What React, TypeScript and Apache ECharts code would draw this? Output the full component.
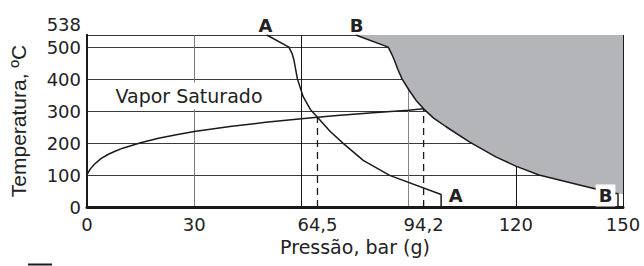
import React, { useEffect, useRef } from "react";
import * as echarts from "echarts";

// Tick labels
const xTickLabels = [0, 30, 64.5, 94.2, 120, 150];
const yTickLabels = [0, 100, 200, 300, 400, 500, 538];

// Saturation curve (pressure bar g, temperature °C)
const satPressure = [0, 0.5, 1, 2, 4, 6, 8, 10, 15, 20, 25, 30, 40, 50, 60, 64.5, 70, 80, 90, 94.2];
const satTemp = [100, 111, 120, 133, 152, 165, 175, 184, 201, 215, 226, 236, 252, 265, 276, 281, 286, 295, 303, 307];

// Curve A
const curveAPressure = [50.3, 56.5, 57.4, 57.9, 58.9, 60.5, 62.5, 64.5, 68, 71.7, 77.3, 84.7, 99.1, 99.1];
const curveATemp = [538, 500, 480, 460, 400, 345, 305, 281, 237, 199, 146, 99, 39, 0];

// Curve B
const curveBPressure = [75.2, 84.3, 85.2, 86, 87, 88.2, 90.1, 92, 94.2, 97, 100.5, 107, 114.4, 120, 126.5, 141.8, 147.3, 148.6, 148.6];
const curveBTemp = [538, 500, 480, 460, 430, 400, 366, 335, 307, 278, 251, 204, 157, 128, 100, 58, 42, 42, 0];

// Dashed drop lines
const dashPressure = [64.5, 94.2];
const dashTemp = [281, 307];

const zip = (a: number[], b: number[]) => a.map((v, i) => [v, b[i]]);

export default function App() {
  const ref = useRef<HTMLDivElement>(null);
  useEffect(() => {
    const chart = echarts.init(ref.current!, null, { renderer: "svg" });
    const font = "DejaVu Sans";
    const ink = "#1a1a1a";
    const bPts = zip(curveBPressure, curveBTemp);
    const shadePts = bPts.filter((p) => p[1] > 0);
    const lineSeries = (data: number[][], extra: any = {}) => ({
      type: "line",
      data,
      showSymbol: false,
      symbol: "none",
      z: 4,
      lineStyle: { color: ink, width: 1.5 },
      ...extra,
    });
    chart.setOption({
      animation: false,
      grid: { left: 86, right: 21, top: 35, bottom: 59, containLabel: false },
      xAxis: [
        {
          type: "value",
          min: 0,
          max: 150,
          interval: 30,
          axisLine: { show: true, lineStyle: { color: ink, width: 3 } },
          axisTick: { show: false },
          splitLine: {
            show: true,
            showMinLine: true,
            showMaxLine: true,
            lineStyle: { color: [ink, "#7a7a7a", ink, "#858585", ink, ink], width: 1 },
          },
          axisLabel: {
            customValues: xTickLabels,
            formatter: (v: number) => String(v).replace(".", ","),
            color: "#222",
            fontFamily: font,
            fontSize: 18,
            margin: 8,
          },
          name: "Pressão, bar (g)",
          nameLocation: "middle",
          nameGap: 27,
          nameTextStyle: { color: "#222", fontFamily: font, fontSize: 19 },
        },
        {
          type: "value",
          min: 0,
          max: 150,
          position: "top",
          z: 10,
          axisLine: { show: true, lineStyle: { color: ink, width: 2 } },
          axisTick: { show: false },
          axisLabel: { show: false },
          splitLine: { show: false },
        },
      ],
      yAxis: [
        {
          type: "value",
          min: 0,
          max: 538,
          interval: 100,
          axisLine: { show: true, lineStyle: { color: ink, width: 2 } },
          axisTick: { show: false },
          splitLine: { show: true, lineStyle: { color: "#3a3a3a", width: 1 } },
          axisLabel: {
            customValues: yTickLabels,
            formatter: (v: number) => (v === 538 ? "{top|538}" : String(v)),
            rich: {
              top: { padding: [0, 0, 22, 0], fontSize: 18, fontFamily: font, color: "#222" },
            },
            color: "#222",
            fontFamily: font,
            fontSize: 18,
            margin: 6,
          },
          name: "Temperatura, ºC",
          nameLocation: "middle",
          nameGap: 58,
          nameTextStyle: { color: "#222", fontFamily: "Liberation Sans", fontSize: 21 },
        },
        {
          type: "value",
          min: 0,
          max: 538,
          position: "right",
          z: 10,
          axisLine: { show: true, lineStyle: { color: ink, width: 2 } },
          axisTick: { show: false },
          axisLabel: { show: false },
          splitLine: { show: false },
        },
      ],
      series: [
        {
          type: "custom",
          z: 3,
          data: [[0, 0]],
          renderItem: (params: any, api: any) => {
            const pts = shadePts.map((p) => api.coord(p));
            pts.push(api.coord([150, 40]));
            pts.push(api.coord([150, 538]));
            return { type: "polygon", shape: { points: pts }, style: { fill: "#b4b5b8", stroke: "none" } };
          },
        },
        lineSeries(zip(satPressure, satTemp)),
        lineSeries(zip(curveAPressure, curveATemp)),
        lineSeries(bPts),
        ...dashPressure.map((p, i) =>
          lineSeries(
            [
              [p, 0],
              [p, dashTemp[i]],
            ],
            { lineStyle: { color: ink, width: 1.3, type: [7, 5] } }
          )
        ),
      ],
      graphic: [
        {
          type: "text",
          z: 100,
          style: {
            text: "Vapor Saturado",
            x: 189,
            y: 96,
            align: "center",
            verticalAlign: "middle",
            fill: "#222",
            fontFamily: font,
            fontSize: 19,
            backgroundColor: "#fff",
            padding: [4, 4],
          },
        },
        {
          type: "text",
          z: 100,
          style: { text: "A", x: 265.5, y: 25, align: "center", verticalAlign: "middle", fill: "#222", fontFamily: font, fontWeight: "bold", fontSize: 18 },
        },
        {
          type: "text",
          z: 100,
          style: { text: "B", x: 356.7, y: 25, align: "center", verticalAlign: "middle", fill: "#222", fontFamily: font, fontWeight: "bold", fontSize: 18 },
        },
        {
          type: "text",
          z: 100,
          style: { text: "A", x: 455.8, y: 195.5, align: "center", verticalAlign: "middle", fill: "#222", fontFamily: font, fontWeight: "bold", fontSize: 18 },
        },
        {
          type: "text",
          z: 100,
          style: {
            text: "B",
            x: 605.5,
            y: 195.5,
            align: "center",
            verticalAlign: "middle",
            fill: "#222",
            fontFamily: font,
            fontWeight: "bold",
            fontSize: 18,
            backgroundColor: "#fff",
            padding: [2, 3],
          },
        },
        {
          type: "line",
          z: 100,
          shape: { x1: 28, y1: 264.5, x2: 52, y2: 264.5 },
          style: { stroke: ink, lineWidth: 2 },
        },
      ],
    });
    return () => chart.dispose();
  }, []);
  return <div ref={ref} style={{ width: 644, height: 266, position: "absolute", left: 0, top: 0 }} />;
}
